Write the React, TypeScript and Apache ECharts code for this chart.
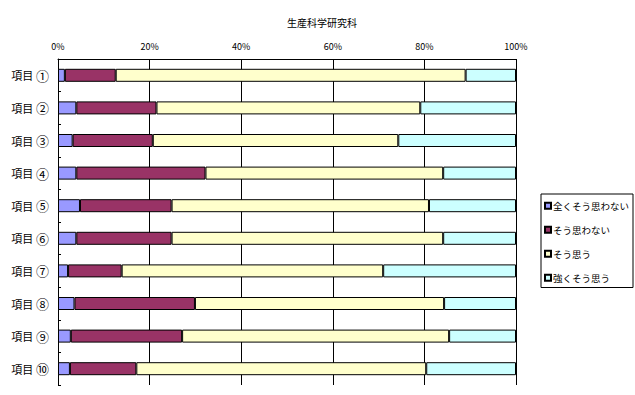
import React, { useEffect, useRef } from "react";
import * as echarts from "echarts";

const title = "生産科学研究科";
const categories = ["項目①", "項目②", "項目③", "項目④", "項目⑤", "項目⑥", "項目⑦", "項目⑧", "項目⑨", "項目⑩"];
const seriesNames = ["全くそう思わない", "そう思わない", "そう思う", "強くそう思う"];
const colors = ["#9999FF", "#993366", "#FFFFCC", "#CCFFFF"];
const notAtAll = [1.5, 4.0, 3.2, 4.0, 4.8, 4.0, 2.2, 3.6, 2.8, 2.6];
const disagree = [11.1, 17.5, 17.5, 28.2, 20.0, 20.8, 11.7, 26.3, 24.3, 14.5];
const agree = [76.4, 57.6, 53.6, 51.9, 56.2, 59.3, 57.1, 54.4, 58.3, 63.3];
const stronglyAgree = [11.0, 20.9, 25.7, 15.9, 19.0, 15.9, 29.0, 15.7, 14.6, 19.6];
const xTicks = [0, 20, 40, 60, 80, 100];

export default function App() {
  const ref = useRef<HTMLDivElement>(null);
  useEffect(() => {
    if (!ref.current) return;
    const chart = echarts.init(ref.current, null, { renderer: "svg" });
    const font = "'Noto Sans CJK JP', sans-serif";
    const data = [notAtAll, disagree, agree, stronglyAgree];
    chart.setOption({
      animation: false,
      backgroundColor: "#ffffff",
      textStyle: { fontFamily: font },
      title: {
        text: title,
        left: 317,
        textAlign: "center",
        top: 12,
        textStyle: { fontSize: 10, fontWeight: "normal", color: "#000", fontFamily: font },
      },
      grid: { left: 58, right: 119, top: 59, bottom: 10, containLabel: false },
      legend: {
        orient: "vertical",
        left: 541,
        top: 194,
        width: 88,
        padding: [7, 4, 5, 3],
        borderColor: "#000",
        borderWidth: 1,
        itemWidth: 6,
        itemHeight: 6,
        itemGap: 14.5,
        icon: "rect",
        selectedMode: false,
        textStyle: { fontSize: 9.5, color: "#000", fontFamily: font, padding: [0, 0, 0, -3] },
        data: seriesNames,
      },
      xAxis: {
        type: "value",
        position: "top",
        min: 0,
        max: 100,
        interval: 20,
        axisLine: { show: true, lineStyle: { color: "#000", width: 1 } },
        axisTick: { show: false },
        splitLine: { show: true, lineStyle: { color: "#000", width: 1 } },
        axisLabel: {
          formatter: (v: number) => (xTicks.includes(v) ? v + "%" : ""),
          fontSize: 9,
          color: "#000",
          margin: 8,
          fontFamily: font,
        },
      },
      yAxis: {
        type: "category",
        inverse: true,
        data: categories,
        axisLine: { show: true, lineStyle: { color: "#000", width: 1 } },
        axisTick: { show: true, inside: true, length: 3, lineStyle: { color: "#000" } },
        axisLabel: {
          color: "#000",
          margin: 9,
          fontFamily: font,
          formatter: (v: string) => "{a|" + v.slice(0, 2) + "} {b|" + v.slice(2) + "}",
          rich: {
            a: { fontSize: 11, color: "#000", fontFamily: font },
            b: { fontSize: 13, color: "#000", fontFamily: font },
          },
        },
      },
      series: seriesNames.map((name, i) => ({
        name,
        type: "bar",
        stack: "total",
        barWidth: 13,
        data: data[i],
        itemStyle: { color: colors[i], borderColor: "#000", borderWidth: 1 },
        emphasis: { disabled: true },
      })),
    });
    return () => chart.dispose();
  }, []);
  return <div ref={ref} style={{ position: "fixed", left: 0, top: 0, width: 635, height: 395 }} />;
}
